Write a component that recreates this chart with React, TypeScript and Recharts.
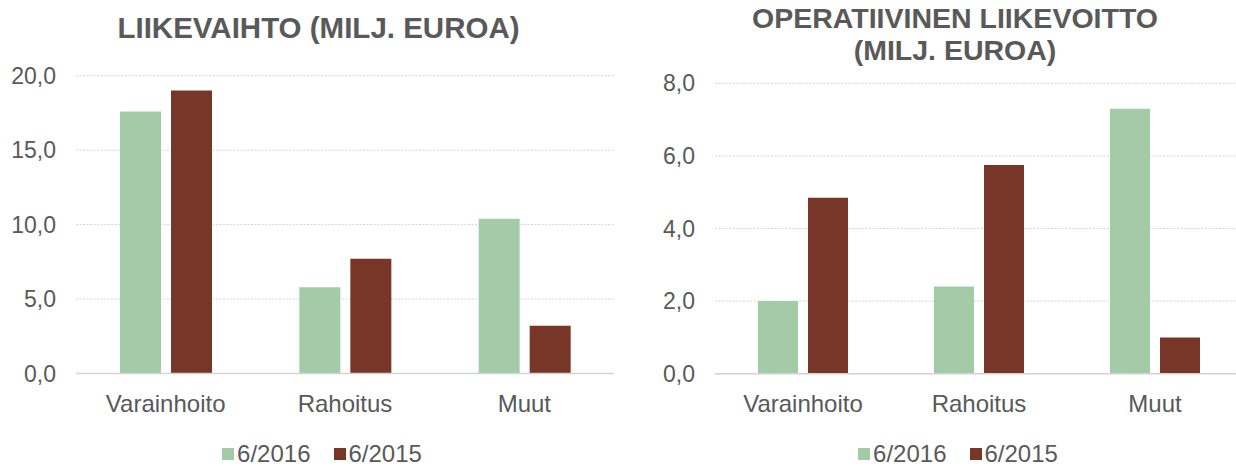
import React from 'react';
import { BarChart, Bar, XAxis, YAxis, CartesianGrid } from 'recharts';

const categories = ['Varainhoito', 'Rahoitus', 'Muut'];
const seriesNames = ['6/2016', '6/2015'];
const revenue2016 = [17.6, 5.8, 10.4];
const revenue2015 = [19.0, 7.7, 3.2];
const ebit2016 = [2.0, 2.4, 7.3];
const ebit2015 = [4.85, 5.75, 1.0];
const revenueTicks = [0, 5, 10, 15, 20];
const ebitTicks = [0, 2, 4, 6, 8];

const GREEN = '#A3CBA8';
const BROWN = '#773627';
const TEXT = '#595959';
const GRID = '#D4D4D4';
const FONT = '"Liberation Sans", Arial, sans-serif';

const fmt = (v: number) => v.toFixed(1).replace('.', ',');

const build = (a: number[], b: number[]) =>
  categories.map((c, i) => ({ name: c, s2016: a[i], s2015: b[i] }));

const Legend = ({ center }: { center: number }) => (
  <div
    style={{
      position: 'absolute',
      left: center - 200,
      width: 400,
      top: 442,
      height: 24,
      display: 'flex',
      justifyContent: 'center',
      alignItems: 'center',
      fontSize: 24,
      lineHeight: '24px',
      color: TEXT,
    }}
  >
    {seriesNames.map((n, i) => (
      <div key={n} style={{ display: 'flex', alignItems: 'center', marginLeft: i ? 23 : 0 }}>
        <span style={{ width: 12, height: 12, background: i ? BROWN : GREEN, marginRight: 3 }} />
        <span>{n}</span>
      </div>
    ))}
  </div>
);

interface PanelProps {
  data: any[];
  ticks: number[];
  width: number;
  top: number;
  bottom: number;
  yWidth: number;
  right: number;
  barSize: number;
  barGap: number;
}

const Panel = ({ data, ticks, width, top, bottom, yWidth, right, barSize, barGap }: PanelProps) => (
  <BarChart
    width={width}
    height={466}
    data={data}
    margin={{ top, right, left: 0, bottom }}
    barSize={barSize}
    barGap={barGap}
  >
    <CartesianGrid vertical={false} stroke={GRID} strokeDasharray="2 1.5" />
    <XAxis
      dataKey="name"
      height={40}
      tickLine={false}
      tickSize={0}
      tickMargin={21}
      axisLine={{ stroke: GRID, strokeWidth: 1.5 }}
      tick={{ fill: TEXT, fontSize: 24, fontFamily: FONT }}
    />
    <YAxis
      width={yWidth}
      domain={[ticks[0], ticks[ticks.length - 1]]}
      ticks={ticks}
      tickFormatter={fmt}
      axisLine={false}
      tickLine={false}
      tickSize={0}
      tickMargin={20}
      tick={{ fill: TEXT, fontSize: 23, fontFamily: FONT }}
    />
    <Bar dataKey="s2016" fill={GREEN} isAnimationActive={false} />
    <Bar dataKey="s2015" fill={BROWN} isAnimationActive={false} />
  </BarChart>
);

export default function App() {
  const titleStyle: React.CSSProperties = {
    position: 'absolute',
    textAlign: 'center',
    fontWeight: 'bold',
    fontSize: 28.5,
    lineHeight: '32px',
    color: TEXT,
  };
  return (
    <div
      style={{
        position: 'absolute',
        left: 0,
        top: 0,
        width: 1236,
        height: 466,
        overflow: 'hidden',
        background: '#fff',
        fontFamily: FONT,
      }}
    >
      <div style={{ ...titleStyle, fontSize: 29.5, left: 18.5, width: 600, top: 12 }}>
        LIIKEVAIHTO (MILJ. EUROA)
      </div>
      <div style={{ ...titleStyle, left: 655, width: 600, top: 2 }}>
        OPERATIIVINEN LIIKEVOITTO
        <br />
        (MILJ. EUROA)
      </div>

      <div style={{ position: 'absolute', left: 0, top: 0 }}>
        <Panel
          data={build(revenue2016, revenue2015)}
          ticks={revenueTicks}
          width={630}
          top={75.7}
          bottom={52.5}
          yWidth={76}
          right={16}
          barSize={41}
          barGap={10}
        />
      </div>
      <div style={{ position: 'absolute', left: 620, top: 0 }}>
        <Panel
          data={build(ebit2016, ebit2015)}
          ticks={ebitTicks}
          width={640}
          top={83.3}
          bottom={52.3}
          yWidth={95}
          right={17}
          barSize={40}
          barGap={10}
        />
      </div>

      <Legend center={322} />
      <Legend center={958} />
    </div>
  );
}
